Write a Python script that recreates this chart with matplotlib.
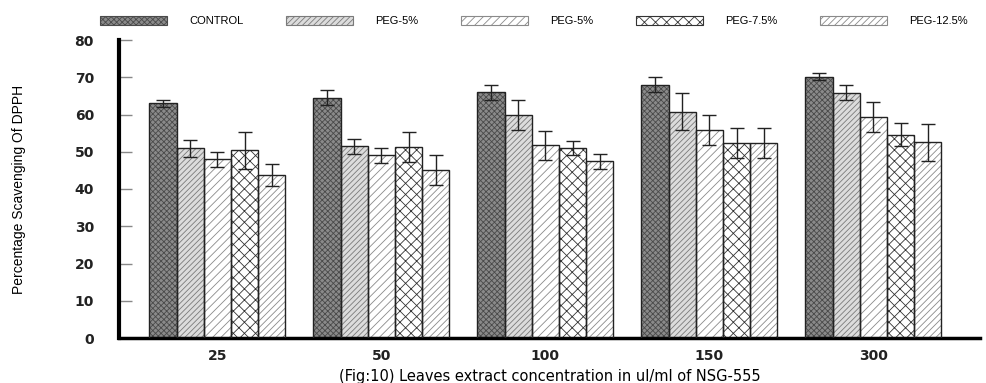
import matplotlib
matplotlib.use("Agg")
import matplotlib.pyplot as plt
import numpy as np
from matplotlib.patches import Patch

categories = ["25", "50", "100", "150", "300"]
series_names = ["CONTROL", "PEG-5%", "PEG-5%", "PEG-7.5%", "PEG-12.5%"]
control = [63.0, 64.5, 66.0, 68.0, 70.2]
peg5a = [50.9, 51.5, 59.8, 60.8, 65.9]
peg5b = [48.0, 49.0, 51.7, 55.9, 59.3]
peg75 = [50.4, 51.2, 51.0, 52.3, 54.6]
peg125 = [43.8, 45.0, 47.5, 52.3, 52.5]
control_err = [1.0, 2.0, 2.0, 2.0, 1.0]
peg5a_err = [2.2, 2.0, 4.0, 5.0, 2.0]
peg5b_err = [2.0, 2.0, 4.0, 4.0, 4.0]
peg75_err = [5.0, 4.0, 2.0, 4.0, 3.0]
peg125_err = [3.0, 4.0, 2.0, 4.0, 5.0]

values = [control, peg5a, peg5b, peg75, peg125]
errors = [control_err, peg5a_err, peg5b_err, peg75_err, peg125_err]
faces = ["#8a8a8a", "#dcdcdc", "white", "white", "white"]
hatch_cols = ["#4a4a4a", "#7a7a7a", "#8a8a8a", "#333333", "#8a8a8a"]
hatches = ["xxxxxx", "//////", "////", "xxx", "/////"]

plt.rcParams['hatch.linewidth'] = 0.6
fig = plt.figure(figsize=(9.87, 3.83), dpi=100)
ax = fig.add_axes([119/987, 1-338/383, (980-119)/987, (338-40)/383])

x = np.arange(len(categories))
w = 0.166
handles = []
for i, (vals, errs) in enumerate(zip(values, errors)):
    pos = x + (i - 2) * w
    ax.bar(pos, vals, w, color=faces[i], hatch=hatches[i], edgecolor=hatch_cols[i], linewidth=0, zorder=2)
    ax.bar(pos, vals, w, fill=False, edgecolor="#222222", linewidth=1.0, zorder=3)
    ax.errorbar(pos, vals, yerr=errs, fmt='none', ecolor='#222222', elinewidth=1.0, capsize=5, capthick=1.0, zorder=4)
    handles.append(Patch(facecolor=faces[i], hatch=hatches[i], edgecolor=hatch_cols[i], linewidth=0.8, label=series_names[i]))

ax.set_xlim(-0.6, 4.65)
ax.set_ylim(0, 80)
ax.set_yticks(np.arange(0, 81, 10))
ax.set_xticks(x)
ax.set_xticklabels(categories)
for s in ["top", "right"]:
    ax.spines[s].set_visible(False)
ax.spines["left"].set_linewidth(3)
ax.spines["bottom"].set_linewidth(2.5)
ax.tick_params(axis='y', direction='in', length=9, width=1, color='#888888', pad=18)
ax.tick_params(axis='x', length=0, pad=8)
for lab in ax.get_yticklabels() + ax.get_xticklabels():
    lab.set_fontfamily('DejaVu Sans')
    lab.set_fontweight('bold')
    lab.set_fontsize(10)
    lab.set_color('#222222')

ax.set_ylabel("Percentage Scavenging Of DPPH", fontfamily='Liberation Sans', fontsize=10, labelpad=35)
ax.set_xlabel("(Fig:10) Leaves extract concentration in ul/ml of NSG-555", fontfamily='DejaVu Sans', fontsize=10.5, labelpad=4)

leg = fig.legend(handles=handles, ncol=5, loc='center left', mode='expand',
                 bbox_to_anchor=(100/987, 1-21/383, (968-100)/987, 0.0),
                 frameon=False, handlelength=6.0, handleheight=0.9, handletextpad=2.0,
                 prop={'family': 'Liberation Sans', 'size': 8}, borderaxespad=0, borderpad=0)

fig.savefig("out.png", dpi=100)
